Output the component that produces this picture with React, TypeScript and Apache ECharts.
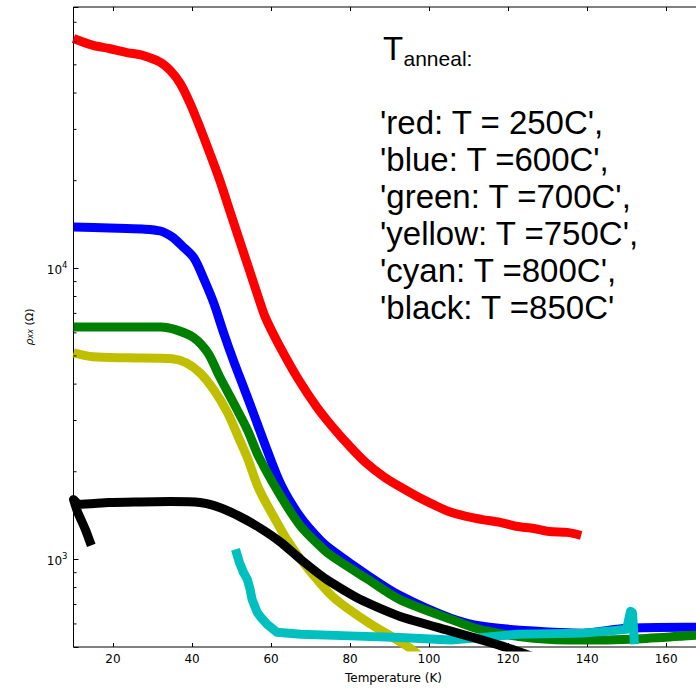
import React, { useEffect, useRef } from "react";
import * as echarts from "echarts";

// Resistivity vs temperature for six anneal temperatures (T in K, rho in Ohm)
const redT = [10, 15, 19, 23.5, 27.5, 32, 34.5, 37, 39.5, 42, 44.5, 47, 49.5, 52, 54.5, 57, 58.5, 62, 67, 71.5, 75.5, 80, 84, 88.5, 92.5, 97, 101, 105, 109.5, 113.5, 118, 122, 126.5, 130.5, 135, 138.5];
const redR = [61600, 58300, 56900, 55100, 53900, 51000, 47800, 43200, 36900, 30500, 24850, 20100, 15850, 12500, 9870, 7790, 6810, 5460, 4140, 3350, 2860, 2440, 2150, 1925, 1780, 1645, 1545, 1460, 1405, 1370, 1340, 1300, 1277, 1247, 1238, 1209];

const blueT = [10, 19, 27.5, 32, 35, 37.5, 40.5, 43, 45.5, 48, 50.5, 53, 55.5, 58, 62.5, 67.5, 72.5, 75.5, 84.5, 92.5, 105.5, 113.5, 126.5, 139, 147.5, 150, 164.5, 172];
const blueR = [13850, 13750, 13640, 13430, 12800, 11930, 10850, 9190, 7600, 6000, 4810, 3920, 3190, 2580, 1807, 1393, 1162, 1074, 881, 753, 628, 589, 567, 558, 575, 580, 585, 585];

const greenT = [10, 23.5, 32, 36, 40.5, 44, 47, 50.5, 54, 57, 62.5, 67.5, 72.5, 75.5, 84.5, 92.5, 105.5, 113.5, 126.5, 139, 151, 164.5, 172];
const greenR = [6290, 6290, 6290, 6145, 5770, 5125, 4240, 3450, 2790, 2237, 1645, 1300, 1108, 1024, 854, 729, 623, 571, 536, 528, 532, 545, 553];

const yellowT = [10, 15, 23.5, 35, 38.5, 42, 45.5, 49, 52, 54, 57, 62.5, 64, 67.5, 75.5, 84.5, 94.5, 100];
const yellowR = [5125, 4966, 4927, 4890, 4737, 4377, 3826, 3191, 2578, 2237, 1738, 1267, 1171, 1000, 747, 608, 503, 437];

const cyanT = [51, 52, 53, 54, 54.7, 55.2, 56.5, 57.2, 59, 61.5, 67.5, 80, 92.5, 105.5, 122.5, 139, 146, 150, 151, 151.5, 152];
const cyanR = [1082, 977, 903, 854, 789, 729, 658, 638, 599, 562, 553, 546, 539, 528, 553, 558, 568, 575, 663, 656, 511];

// The first points trace the short cool-down spike at the lowest temperatures
const blackT = [14.5, 13, 11, 10, 11.5, 19, 27, 34.5, 42, 47, 52, 57, 62.5, 67.5, 74, 82.5, 92.5, 105.5, 113.5, 121, 128];
const blackR = [1117, 1267, 1460, 1606, 1545, 1568, 1575, 1580, 1568, 1507, 1405, 1287, 1144, 1000, 854, 729, 638, 567, 528, 491, 454];

// Minor ticks of the log axis
const yMinorTicks = [600, 700, 800, 900, 2000, 3000, 4000, 5000, 6000, 7000, 8000, 9000, 20000, 30000, 40000, 50000, 60000, 70000];

const annotationLines = [
  "'red: T = 250C',",
  "'blue: T =600C',",
  "'green: T =700C',",
  "'yellow: T =750C',",
  "'cyan: T =800C',",
  "'black: T =850C'",
];

const X_MIN = 10;
const X_MAX = 172;
const Y_MIN = 500;
const Y_MAX = 79000;

const pair = (t: number[], r: number[]) => t.map((v, i) => [v, r[i]]);

export default function App() {
  const ref = useRef<HTMLDivElement>(null);

  useEffect(() => {
    if (!ref.current) return;
    const chart = echarts.init(ref.current, null, { renderer: "svg" });

    const curve = (name: string, color: string, t: number[], r: number[], smooth: number) => ({
      type: "line",
      name,
      data: pair(t, r),
      showSymbol: false,
      symbol: "none",
      clip: true,
      smooth,
      lineStyle: { color, width: 9, join: "round" },
      itemStyle: { color },
      emphasis: { disabled: true },
    });

    const font = '"Liberation Sans", Arial, sans-serif';
    const textBlock: any[] = [
      {
        type: "text",
        x: 383,
        y: 48.5,
        style: { text: "T", font: `33px ${font}`, fill: "#000", verticalAlign: "middle", align: "left" },
      },
      {
        type: "text",
        x: 403.5,
        y: 58,
        style: { text: "anneal:", font: `21px ${font}`, fill: "#000", verticalAlign: "middle", align: "left" },
      },
      ...annotationLines.map((s, i) => ({
        type: "text",
        x: 380,
        y: 134 + i * 37 - 11.4,
        style: { text: s, font: `33px ${font}`, fill: "#000", verticalAlign: "middle", align: "left" },
      })),
    ];

    chart.setOption({
      animation: false,
      backgroundColor: "#fff",
      grid: {
        left: 73.5,
        top: 7,
        width: 640,
        height: 640,
        show: true,
        borderColor: "#000",
        borderWidth: 1,
        backgroundColor: "transparent",
      },
      xAxis: [
        {
          type: "value",
          min: X_MIN,
          max: X_MAX,
          splitNumber: 8,
          minInterval: 20,
          maxInterval: 20,
          axisLine: { show: false },
          splitLine: { show: false },
          axisTick: { inside: true, length: 4, lineStyle: { color: "#000" } },
          axisLabel: {
            color: "#000",
            fontSize: 12,
            fontFamily: "DejaVu Sans",
            margin: 6,
            formatter: (v: number) => (v % 20 === 0 ? String(v) : ""),
          },
          name: "Temperature (K)",
          nameLocation: "middle",
          nameGap: 25,
          nameTextStyle: { color: "#000", fontSize: 12, fontFamily: "DejaVu Sans" },
        },
        {
          type: "value",
          position: "top",
          min: X_MIN,
          max: X_MAX,
          splitNumber: 8,
          minInterval: 20,
          maxInterval: 20,
          axisLine: { show: false },
          splitLine: { show: false },
          axisTick: { inside: true, length: 4, lineStyle: { color: "#000" } },
          axisLabel: { show: false },
        },
      ],
      yAxis: {
        type: "log",
        logBase: 10,
        min: Y_MIN,
        max: Y_MAX,
        axisLine: { show: false },
        splitLine: { show: false },
        axisTick: { inside: true, length: 5, lineStyle: { color: "#000" } },
        axisLabel: {
          color: "#000",
          margin: 6,
          formatter: (v: number) => {
            const e = Math.log10(v);
            if (Math.abs(e - Math.round(e)) < 1e-6) return `{b|10}{s|${Math.round(e)}}`;
            return "";
          },
          rich: {
            b: { fontSize: 12, fontFamily: "DejaVu Sans", color: "#000", verticalAlign: "bottom" },
            s: { fontSize: 8.5, fontFamily: "DejaVu Sans", color: "#000", verticalAlign: "bottom", padding: [0, 0, 7, 0] },
          },
        },
        name: "{r|ρ}{x|xx}{p| (Ω)}",
        nameLocation: "middle",
        nameRotate: 90,
        nameGap: 39,
        nameTextStyle: {
          rich: {
            r: { fontSize: 11, fontStyle: "italic", fontFamily: "DejaVu Sans", color: "#000", verticalAlign: "top" },
            x: { fontSize: 8, fontStyle: "italic", fontFamily: "DejaVu Sans", color: "#000", verticalAlign: "bottom" },
            p: { fontSize: 11, fontFamily: "DejaVu Sans", color: "#000", verticalAlign: "top" },
          },
        },
      },
      series: [
        curve("red", "#ff0000", redT, redR, 0.3),
        curve("blue", "#0000ff", blueT, blueR, 0.3),
        curve("green", "#008000", greenT, greenR, 0.3),
        curve("yellow", "#bfbf00", yellowT, yellowR, 0.3),
        curve("cyan", "#00bfbf", cyanT, cyanR, 0),
        curve("black", "#000000", blackT, blackR, 0.2),
        {
          type: "custom",
          name: "minor ticks",
          silent: true,
          clip: false,
          z: 10,
          data: yMinorTicks.map((v) => [X_MIN, v]),
          renderItem: (_params: any, api: any) => {
            const p = api.coord([api.value(0), api.value(1)]);
            return {
              type: "line",
              shape: { x1: p[0], y1: p[1], x2: p[0] + 3, y2: p[1] },
              style: { stroke: "#000", lineWidth: 1 },
            };
          },
        },
      ],
      graphic: textBlock,
    });

    return () => chart.dispose();
  }, []);

  // The plot area runs a little past the right edge of the page, so the
  // chart canvas is wider than the visible frame that clips it.
  return (
    <div style={{ position: "absolute", left: 0, top: 0, width: 696, height: 689, overflow: "hidden", background: "#fff" }}>
      <div ref={ref} style={{ width: 720, height: 689 }} />
    </div>
  );
}
